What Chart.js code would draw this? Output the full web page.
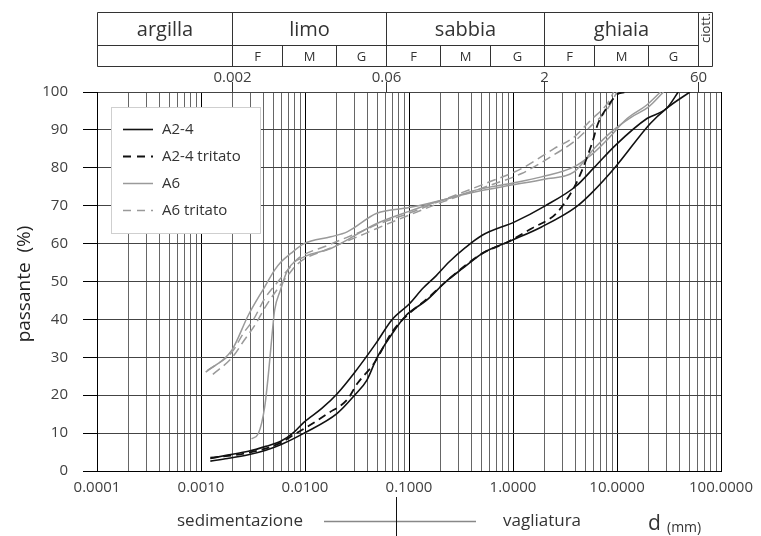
<!DOCTYPE html>
<html>
<head>
<meta charset="utf-8">
<script src="https://cdn.jsdelivr.net/npm/chart.js@4.4.1/dist/chart.umd.min.js"></script>
<style>
html,body{margin:0;padding:0;background:#fff;}
canvas{display:block;}
</style>
</head>
<body>
<canvas id="c" width="761" height="536" style="width:761px;height:536px"></canvas>
<script>
// ---- Data (d in mm, passante in %) ----
const a24_1_d = [0.00123,0.0018,0.00285,0.0042,0.0059,0.0078,0.0098,0.0145,0.0204,0.03,0.049,0.068,0.1016,0.136,0.182,0.244,0.35,0.506,1.05,2.02,4.05,6.04,9.7,19.4,30,38.8];
const a24_1_p = [3.3,4.2,5.2,6.5,7.9,10.2,12.9,16.5,20.4,26,34,39.8,44.2,48.2,51.5,55.2,59,62.2,65.8,69.9,75.2,80.1,86,93,95.7,100];

const a24_2_d = [0.00123,0.0018,0.00285,0.0042,0.0059,0.0098,0.0204,0.03,0.0394,0.049,0.068,0.094,0.147,0.227,0.33,0.506,0.907,1.88,4.05,5.62,9.7,20.9,30,50.2];
const a24_2_p = [2.6,3.3,4.3,5.5,7.0,10.0,15.2,20,24,29.8,36,41.1,45,50,53.5,57.4,60.5,64.4,69.7,73.2,80.3,91.7,95.7,100];

const a24t_d = [0.00123,0.00285,0.0059,0.00774,0.011,0.0166,0.0254,0.0321,0.0462,0.07,0.1,0.15,0.25,0.5,0.9,1.51,2.61,3.9,4.68,5.82,6.53,8.1,10.4,12.5];
const a24t_p = [3.5,4.8,7.5,9.5,12,15.2,18.8,23.2,28.4,37,41.5,45.5,51,57.3,60.5,64,68,75,79.8,86.9,91.5,96.1,99.6,100];

const a6_1_d = [0.00306,0.00356,0.0041,0.0045,0.0049,0.0051,0.0058,0.0068,0.0098,0.0177,0.049,0.1,0.211,0.5,1,2,3.9,6,9.3,14,20,28];
const a6_1_p = [8.5,9.9,17,27,38,42.4,47.7,53,56.5,58.7,65.3,68.5,71.5,74,75.5,77,79,85,90,93.5,96,100];

const a6_2_d = [0.00111,0.00198,0.00285,0.0041,0.0051,0.0059,0.0073,0.0098,0.0177,0.0254,0.049,0.1,0.211,0.5,1,1.88,3.9,6,8.1,12.5,19.2,26.2];
const a6_2_p = [26.1,31.9,41.1,48.6,53,55.2,57.4,60,61.8,63.1,68,69.5,71.5,74.5,76,77.6,80.3,84,87.5,93,96.5,100];

const a6t_1_d = [0.00115,0.002,0.00255,0.0032,0.0041,0.0055,0.0068,0.0085,0.0164,0.0368,0.049,0.1,0.211,0.547,1.21,2.5,3.9,5.6,8.1,9.3];
const a6t_1_p = [26.5,31.5,36.3,40,45.5,50,53,56,59.5,63.5,65,68,71.5,75.9,79.8,85.1,88.2,92.6,97,100];

const a6t_2_d = [0.0013,0.002,0.0026,0.0033,0.0042,0.0056,0.007,0.0088,0.0164,0.0368,0.049,0.1,0.211,0.547,1.21,2.5,3.9,5.6,8.1,10];
const a6t_2_p = [25.5,30,34.5,38.5,43.5,48.5,52,55,58.5,62.5,64,67.5,71,75,78.5,83.5,87,91,95.5,100];

// axis / header texts
const yTicks = [0,10,20,30,40,50,60,70,80,90,100];
const topLabels = [0.002, 0.06, 2, 60];
const classes = [
  {name:'argilla', from:0.0001, to:0.002, subs:[]},
  {name:'limo', from:0.002, to:0.06, subs:[0.006,0.02]},
  {name:'sabbia', from:0.06, to:2, subs:[0.2,0.6]},
  {name:'ghiaia', from:2, to:60, subs:[6,20]}
];
const subLabels = ['F','M','G'];
const ciottLabel = 'ciott.';
const splitValue = 0.075;

const FONT = "'Open Sans', 'DejaVu Sans', sans-serif";

function pts(d, p){ return d.map((v,i)=>({x:v, y:p[i]})); }

const BLACK = '#111111', GRAY = '#9a9a9a';
const datasets = [
  {label:'A2-4', data:pts(a24_1_d,a24_1_p), borderColor:BLACK, borderWidth:1.6, borderDash:[]},
  {label:'A2-4', data:pts(a24_2_d,a24_2_p), borderColor:BLACK, borderWidth:1.6, borderDash:[]},
  {label:'A2-4 tritato', data:pts(a24t_d,a24t_p), borderColor:BLACK, borderWidth:1.8, borderDash:[8,5]},
  {label:'A6', data:pts(a6_1_d,a6_1_p), borderColor:GRAY, borderWidth:1.5, borderDash:[]},
  {label:'A6', data:pts(a6_2_d,a6_2_p), borderColor:GRAY, borderWidth:1.5, borderDash:[]},
  {label:'A6 tritato', data:pts(a6t_1_d,a6t_1_p), borderColor:GRAY, borderWidth:1.5, borderDash:[9,5]},
  {label:'A6 tritato', data:pts(a6t_2_d,a6t_2_p), borderColor:GRAY, borderWidth:1.5, borderDash:[9,5]}
].map(ds => Object.assign(ds, {pointRadius:0, fill:false, cubicInterpolationMode:'monotone'}));

function isDecade(v){ const l = Math.log10(v); return Math.abs(l - Math.round(l)) < 1e-9; }

const xTickValues = [];
for (let e=-4; e<=1; e++) for (let m=1; m<=9; m++) xTickValues.push(m*Math.pow(10,e));
xTickValues.push(100);

const deco = {
  id:'deco',
  afterDraw(chart){
    const c = chart.ctx, xs = chart.scales.x, ca = chart.chartArea;
    const X = v => Math.round(xs.getPixelForValue(v)) + 0.5;
    c.save();
    c.strokeStyle = '#333'; c.lineWidth = 1; c.setLineDash([]);
    const tTop = 12.5, tMid = 45.5, tBot = 66.5;
    const xL = X(0.0001), x60 = X(60), xR = x60 + 14;
    const line = (x1,y1,x2,y2)=>{c.beginPath(); c.moveTo(x1,y1); c.lineTo(x2,y2); c.stroke();};
    line(xL,tTop,xR,tTop); line(xL,tBot,xR,tBot); line(xL,tMid,x60,tMid);
    line(xL,tTop,xL,tBot); line(xR,tTop,xR,tBot);
    c.fillStyle = '#333'; c.textAlign='center'; c.textBaseline='middle';
    classes.forEach(cl=>{
      const a = X(cl.from), b = X(cl.to);
      line(b,tTop,b,tBot);
      c.font = "20px " + FONT;
      c.fillText(cl.name, (a+b)/2, 30);
      if (cl.subs.length){
        const edges = [cl.from].concat(cl.subs).concat([cl.to]);
        cl.subs.forEach(s=>line(X(s),tMid,X(s),tBot));
        c.font = "13px " + FONT;
        for (let i=0;i<3;i++) c.fillText(subLabels[i], (X(edges[i])+X(edges[i+1]))/2, 57);
      }
    });
    // ciott. rotated
    c.save(); c.translate((x60+xR)/2+1, 28); c.rotate(-Math.PI/2);
    c.font = "13px " + FONT; c.fillText(ciottLabel, 0, 0); c.restore();

    // top labels and ticks
    c.font = "15px " + FONT; c.fillStyle = '#404040';
    topLabels.forEach(v=>{
      const x = X(v);
      c.strokeStyle = '#333'; line(x, 82, x, ca.top);
      c.fillText(String(v), x, 78);
    });

    // legend
    const lx = 111.5, ly = 107.5, lw = 149, lh = 126;
    c.fillStyle = '#fff'; c.fillRect(lx, ly, lw, lh);
    c.strokeStyle = '#cfcfcf'; c.lineWidth = 1; c.strokeRect(lx, ly, lw, lh);
    const seen = [];
    chart.data.datasets.forEach(ds=>{ if (!seen.find(s=>s.label===ds.label)) seen.push(ds); });
    c.textAlign = 'left'; c.font = "15px " + FONT;
    seen.forEach((ds,i)=>{
      const y = 129.5 + i*27;
      c.strokeStyle = ds.borderColor; c.lineWidth = ds.borderWidth;
      c.setLineDash(ds.borderDash && ds.borderDash.length ? [8,6] : []);
      c.beginPath(); c.moveTo(123, y); c.lineTo(153, y); c.stroke();
      c.setLineDash([]);
      c.fillStyle = '#333'; c.fillText(ds.label, 162, y);
    });

    // y title
    c.save(); c.translate(25, 284); c.rotate(-Math.PI/2);
    c.textAlign='center'; c.fillStyle='#222'; c.font = "19px " + FONT;
    c.fillText('passante  (%)', 0, 0); c.restore();

    // bottom annotation
    const xs0 = X(splitValue);
    c.fillStyle = '#333'; c.font = "17px " + FONT; c.textAlign='center';
    c.fillText('sedimentazione', 240, 521);
    c.fillText('vagliatura', 542, 521);
    c.strokeStyle = '#888'; c.lineWidth = 1.5; line(324, 521.5, 476, 521.5);
    c.strokeStyle = '#111'; c.lineWidth = 1; line(xs0, 497, xs0, 536);
    c.textAlign='left'; c.font = "21px " + FONT; c.fillText('d', 648, 524);
    c.font = "14px " + FONT; c.fillText('(mm)', 667, 528);
    c.restore();
  }
};

new Chart(document.getElementById('c').getContext('2d'), {
  type:'line',
  data:{datasets},
  options:{
    responsive:false, animation:false, devicePixelRatio:1,
    layout:{padding:{top:92, right:33, left:0, bottom:0}},
    plugins:{legend:{display:false}, tooltip:{enabled:false}},
    scales:{
      x:{
        type:'logarithmic', min:0.0001, max:100,
        afterBuildTicks:s=>{ s.ticks = xTickValues.map(v=>({value:v})); },
        afterFit:s=>{ s.height = 65; },
        ticks:{autoSkip:false, maxRotation:0, minRotation:0, padding:8,
          color:'#404040', font:{family:FONT, size:15},
          callback:(v)=> isDecade(v) ? Number(v).toFixed(4) : ''},
        grid:{drawTicks:false, lineWidth:1,
          color:(ctx)=> (ctx.tick && isDecade(ctx.tick.value)) ? '#000' : '#666'},
        border:{display:true, color:'#000', width:1}
      },
      y:{
        min:0, max:100,
        afterBuildTicks:s=>{ s.ticks = yTicks.map(v=>({value:v})); },
        afterFit:s=>{ s.width = 97; },
        ticks:{padding:15, color:'#404040', font:{family:FONT, size:15}},
        grid:{color:'#444', lineWidth:1, tickLength:14, tickColor:'#000', drawTicks:true},
        border:{display:true, color:'#000', width:1}
      }
    }
  },
  plugins:[deco]
});
</script>
</body>
</html>
